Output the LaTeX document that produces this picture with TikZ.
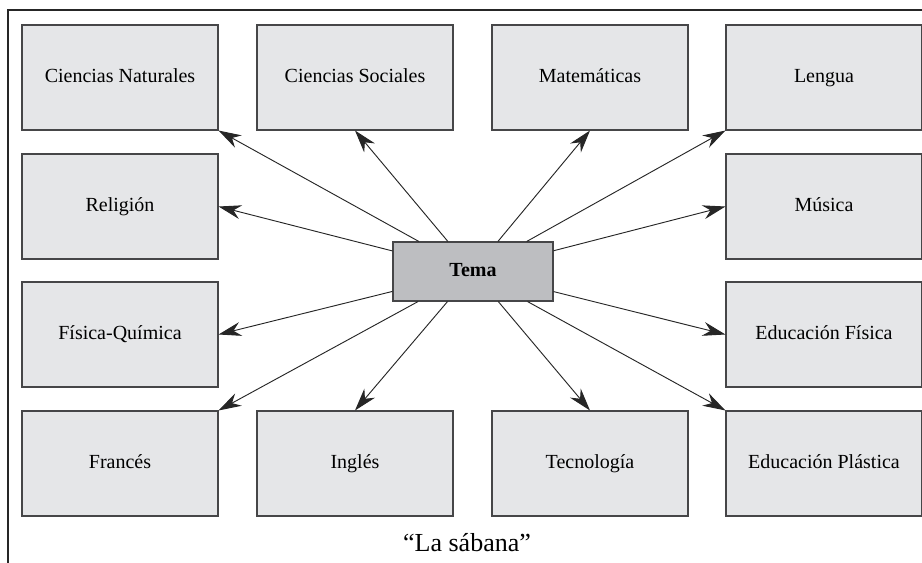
\documentclass[tikz,border=0pt]{standalone}
\usepackage{fontspec}
\setmainfont{Liberation Serif}
\usetikzlibrary{arrows.meta}
\definecolor{boxgray}{RGB}{229,230,232}
\definecolor{temagray}{RGB}{189,190,193}
\definecolor{edgegray}{RGB}{70,70,72}

\begin{document}
\begin{tikzpicture}[x=0.75pt,y=-0.75pt,>={Stealth[length=17pt,width=10.5pt,inset=5.5pt]}]
\tikzstyle{every node}=[draw=edgegray,line width=0.8pt,minimum width=147pt,minimum height=78.75pt,fill=boxgray,text height=10pt,text depth=3pt,font=\fontsize{15}{18}\selectfont]
\useasboundingbox (0,0) rectangle (922,563);
\draw[line width=1.1pt,black!85] (922,10) -- (8,10) -- (8,563);

\node[rectangle](cn) at (120,77.5) {Ciencias Naturales};
\node[rectangle](cs) at (355,77.5) {Ciencias Sociales};
\node[rectangle](ma) at (590,77.5) {Matemáticas};
\node[rectangle](le) at (824,77.5) {Lengua};
\node[rectangle](re) at (120,206.5) {Religión};
\node[rectangle](mu) at (824,206.5) {Música};
\node[rectangle](fq) at (120,334.5) {Física-Química};
\node[rectangle](ef) at (824,334.5) {Educación Física};
\node[rectangle](fr) at (120,463.5) {Francés};
\node[rectangle](in) at (355,463.5) {Inglés};
\node[rectangle](te) at (590,463.5) {Tecnología};
\node[rectangle](ep) at (824,463.5) {Educación Plástica};
\node[rectangle,fill=temagray,minimum width=120pt,minimum height=44.25pt,font=\bfseries\fontsize{15}{18}\selectfont](tema) at (473,271.5) {Tema};

\draw[->,line width=0.7pt,black!85] (tema) -- (cn.south east);
\draw[->,line width=0.7pt,black!85] (tema) -- (cs.south);
\draw[->,line width=0.7pt,black!85] (tema) -- (ma.south);
\draw[->,line width=0.7pt,black!85] (tema) -- (le.south west);
\draw[->,line width=0.7pt,black!85] (tema) -- (re.east);
\draw[->,line width=0.7pt,black!85] (tema) -- (mu.west);
\draw[->,line width=0.7pt,black!85] (tema) -- (fq.east);
\draw[->,line width=0.7pt,black!85] (tema) -- (ef.west);
\draw[->,line width=0.7pt,black!85] (tema) -- (fr.north east);
\draw[->,line width=0.7pt,black!85] (tema) -- (in.north);
\draw[->,line width=0.7pt,black!85] (tema) -- (te.north);
\draw[->,line width=0.7pt,black!85] (tema) -- (ep.north west);

\node[draw=none,fill=none,minimum size=0pt,text height=,text depth=,font=\fontsize{19.5}{23}\selectfont](cap) at (467,543) {“La sábana”};
\end{tikzpicture}
\end{document}
